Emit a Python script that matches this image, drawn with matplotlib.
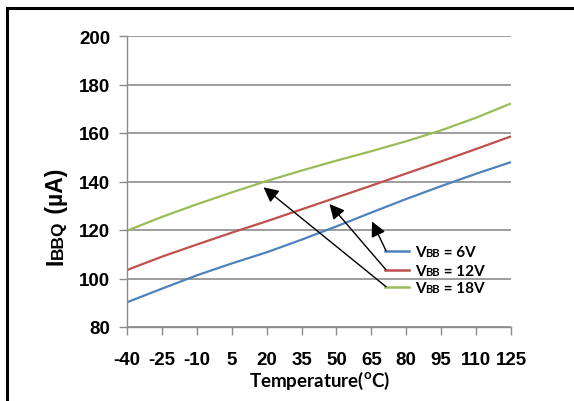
import numpy as np
import matplotlib
matplotlib.use('Agg')
import matplotlib.pyplot as plt
from matplotlib.patches import Rectangle
from matplotlib.transforms import IdentityTransform

# данные
temps = [-40, -25, -10, 5, 20, 35, 50, 65, 80, 95, 110, 125]
i_6v = [90.2, 95.8, 101.3, 106.2, 110.8, 116.0, 121.5, 127.2, 132.8, 138.1, 143.2, 148.0]
i_12v = [103.5, 109.0, 114.0, 118.9, 123.6, 128.5, 133.4, 138.3, 143.3, 148.3, 153.4, 158.6]
i_18v = [119.7, 125.4, 130.6, 135.5, 140.2, 144.5, 148.6, 152.5, 156.6, 161.1, 166.3, 172.2]
series = [('6V', i_6v, '#4F81BD'), ('12V', i_12v, '#C0504D'), ('18V', i_18v, '#9BBB59')]
y_ticks = [80, 100, 120, 140, 160, 180, 200]

fig = plt.figure(figsize=(5.74, 4.02), dpi=100)
ax = fig.add_axes([127 / 574, 74 / 402, 384 / 574, 291 / 402])

x = np.arange(len(temps))
for name, vals, col in series:
    ax.plot(x, vals, color=col, lw=1.6, solid_capstyle='butt', solid_joinstyle='round')

ax.set_xlim(0, len(temps) - 1)
ax.set_ylim(80, 200)
ax.set_yticks(y_ticks)
ax.set_xticks(x)
ax.set_xticklabels([str(t) for t in temps])
ax.grid(axis='y', color='#8c8c8c', lw=1.2)
ax.set_axisbelow(True)
for s in ['top', 'right']:
    ax.spines[s].set_visible(False)
for s in ['left', 'bottom']:
    ax.spines[s].set_color('#8c8c8c')
    ax.spines[s].set_linewidth(1.0)
ax.tick_params(axis='both', colors='#8c8c8c', length=6, width=1.0)
ax.tick_params(axis='y', pad=6)
ax.tick_params(axis='x', pad=11)
for lab in ax.get_yticklabels() + ax.get_xticklabels():
    lab.set_fontfamily('Liberation Sans')
    lab.set_fontweight('bold')
    lab.set_fontsize(13.5)
    lab.set_color('black')

fig.text(320 / 574, 1 - 381 / 402, r'Temperature($^{\mathregular{o}}$C)', ha='center', va='center',
         fontfamily='Lato', fontweight='bold', fontsize=13.5)

# рамка вокруг рисунка
fig.add_artist(Rectangle((6.5 / 574, -0.1), 1.2, 1.1 - 8.5 / 402, transform=fig.transFigure,
                         fill=False, ec='black', lw=2.2))

fig.canvas.draw()
rend = fig.canvas.get_renderer()


def pieces_text(px, py, parts, rotation=0, family='Lato'):
    # текст из кусков разного размера, идущих друг за другом по одной базовой линии
    for s, size in parts:
        t = fig.text(px, py, s, transform=IdentityTransform(), fontsize=size, fontfamily=family,
                     fontweight='bold', rotation=rotation, rotation_mode='anchor',
                     ha='left', va='baseline')
        bb = t.get_window_extent(rend)
        if rotation == 90:
            py = bb.y1
        else:
            px = bb.x1


# подпись оси Y: I + BBQ (мелко) + (µA)
pieces_text(63, 402 - 265, [('I', 16.5), ('BBQ', 12.5), (' (µA)', 16.5)], rotation=90,
            family='Liberation Sans')

# легенда вручную и стрелки
rows_y = [251.7, 270.8, 287.7]
tips = [(372, 222.5), (329.5, 205), (263.5, 188.3)]
for (name, vals, col), ry, tip in zip(series, rows_y, tips):
    ax.plot([385, 409], [402 - ry, 402 - ry], color=col, lw=1.8, transform=IdentityTransform(),
            clip_on=False)
    pieces_text(415, 402 - ry - 5, [('V', 11), ('BB', 8), (' = ' + name, 11)])
    ax.annotate('', xy=(tip[0], 402 - tip[1]), xycoords=IdentityTransform(),
                xytext=(386, 402 - ry), textcoords=IdentityTransform(),
                arrowprops=dict(arrowstyle='-|>,head_length=0.9,head_width=0.45', color='black',
                                lw=1.0, shrinkA=0, shrinkB=0))

fig.savefig('out.png', dpi=100)
